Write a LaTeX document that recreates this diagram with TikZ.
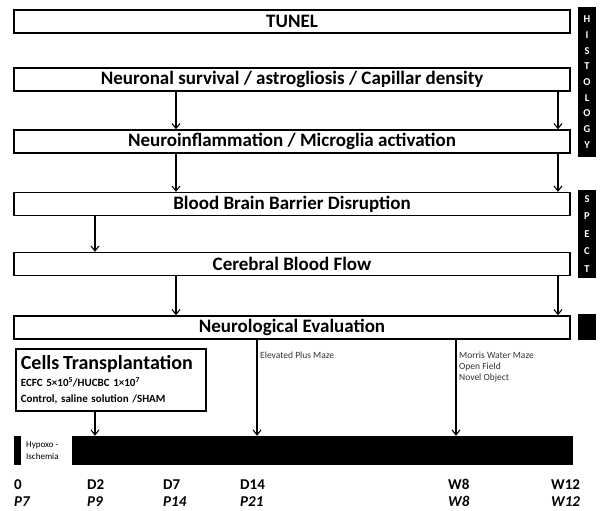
\documentclass[tikz,border=0pt]{standalone}
\usepackage{fontspec}
\setmainfont{Carlito}
\usetikzlibrary{arrows.meta}
\begin{document}
\begin{tikzpicture}[x=1pt,y=-1pt,>={Straight Barb[length=5pt,width=8pt]},
  stage/.style={draw, line width=1.3pt, minimum width=556pt, minimum height=23pt, inner sep=0pt,
    font=\bfseries\fontsize{19}{21}\selectfont},
  side/.style={fill=black, minimum width=18pt, inner sep=0pt, text=white, align=center},
  link/.style={->, line width=1.1pt},
  test/.style={anchor=north west, inner sep=1pt, align=left, text=black!80,
    font=\fontsize{9.5}{11}\selectfont},
  day/.style={anchor=base west, inner sep=0pt, font=\bfseries\fontsize{15}{17}\selectfont},
  age/.style={anchor=base west, inner sep=0pt, font=\bfseries\itshape\fontsize{15}{17}\selectfont}]
\useasboundingbox (0,0) rectangle (605,511);

% stages of analysis
\node[stage] (tunel) at (292,21.5) {TUNEL};
\node[stage] (surv) at (292,79.5) {Neuronal survival / astrogliosis / Capillar density};
\node[stage] (infl) at (292,141.5) {Neuroinflammation / Microglia activation};
\node[stage] (bbb) at (292,204) {Blood Brain Barrier Disruption};
\node[stage] (cbf) at (292,264) {Cerebral Blood Flow};
\node[stage] (neuro) at (292,327.5) {Neurological Evaluation};

% side bars
\node[side, minimum height=150pt, font=\bfseries\fontsize{10.5}{15.7}\selectfont] (histo) at (587,82) {H\\I\\S\\T\\O\\L\\O\\G\\Y};
\node[side, minimum height=88pt, font=\bfseries\fontsize{10.5}{17.5}\selectfont] (spect) at (587,234) {S\\P\\E\\C\\T};
\node[side, minimum height=26pt] (evalbar) at (587,327) {};

% transplantation
\node[draw, line width=1.8pt, anchor=north west, text width=180pt, minimum height=62pt, inner xsep=5pt, inner ysep=4pt,
  align=left, font=\bfseries\fontsize{11}{16.5}\selectfont] (cells) at (15,348)
  {{\fontsize{20}{21}\selectfont Cells Transplantation}\\
   ECFC 5×10\textsuperscript{5}/HUCBC 1×10\textsuperscript{7}\\
   Control, saline solution /SHAM};

% time line
\node[fill=black, minimum width=7pt, minimum height=29pt, inner sep=0pt] (hi) at (17.5,450.5) {};
\node[anchor=west, align=left, inner sep=0pt, font=\fontsize{9}{12}\selectfont] (hitext) at (26,450.5) {Hypoxo -\\Ischemia};
\node[fill=black, minimum width=501pt, minimum height=29pt, inner sep=0pt] (life) at (322.5,450.5) {};

\foreach \x/\d/\p [count=\i] in {14/0/P7, 87/D2/P9, 163/D7/P14, 240/D14/P21, 448/W8/W8, 551/W12/W12}{
  \node[day] (d\i) at (\x,489) {\d};
  \node[age] (p\i) at (\x,506.5) {\p};
}

% columns
\coordinate (colB) at (95,0);
\coordinate (colL) at (176,0);
\coordinate (colE) at (257,0);
\coordinate (colM) at (456,0);
\coordinate (colR) at (558,0);

\draw[link] (surv.south -| colL) -- (infl.north -| colL);
\draw[link] (surv.south -| colR) -- (infl.north -| colR);
\draw[link] (infl.south -| colL) -- (bbb.north -| colL);
\draw[link] (infl.south -| colR) -- (bbb.north -| colR);
\draw[link] (bbb.south -| colB) -- (cbf.north -| colB);
\draw[link] (cbf.south -| colL) -- (neuro.north -| colL);
\draw[link] (cbf.south -| colR) -- (neuro.north -| colR);
\draw[link] (neuro.south -| colE) -- (life.north -| colE);
\draw[link] (neuro.south -| colM) -- (life.north -| colM);
\draw[link] (cells.south -| colB) -- (life.north -| colB);

\node[test] (epm) at (259,351) {Elevated Plus Maze};
\node[test] (mwm) at (458,351) {Morris Water Maze\\Open Field\\Novel Object};
\end{tikzpicture}
\end{document}
